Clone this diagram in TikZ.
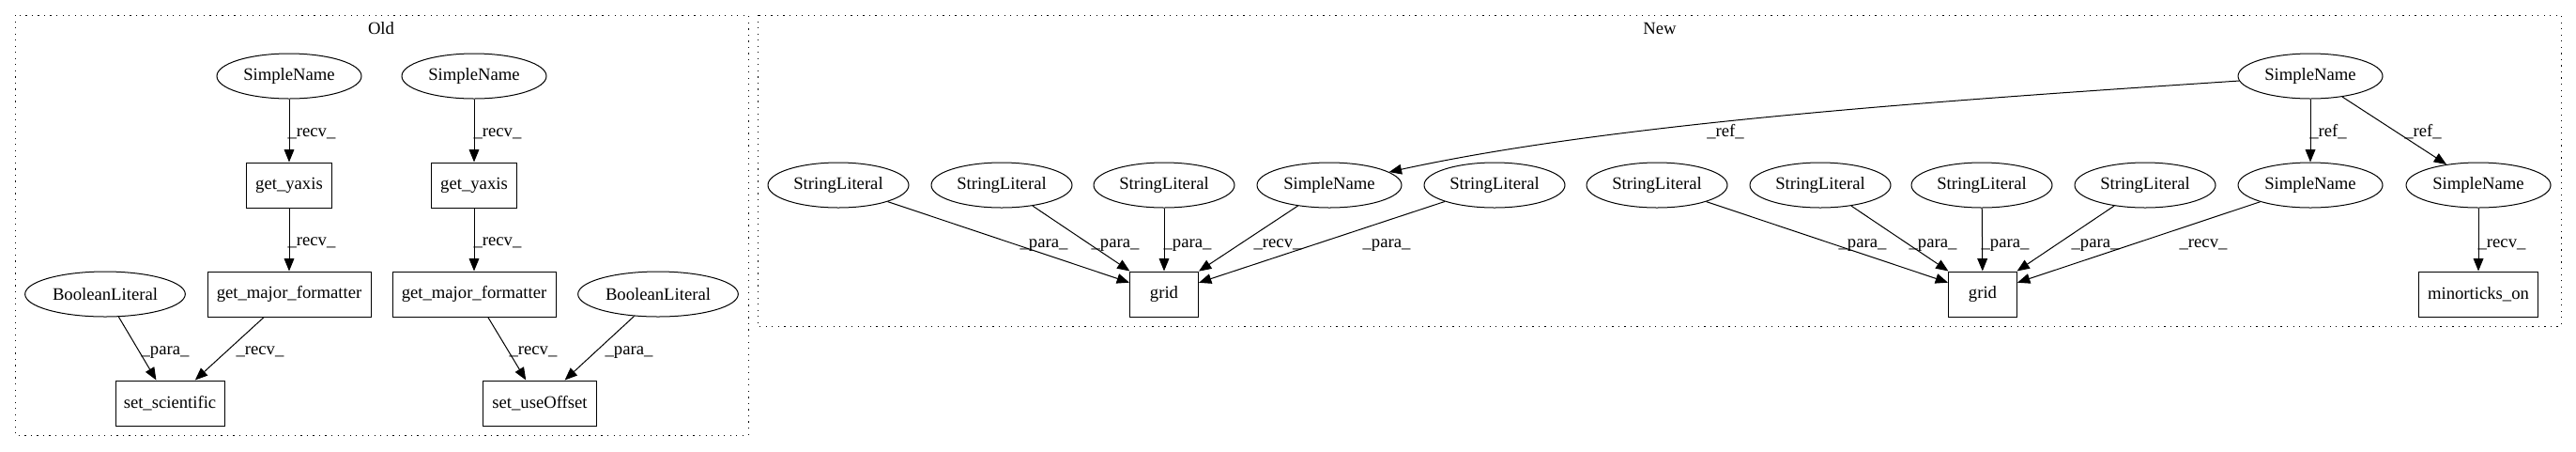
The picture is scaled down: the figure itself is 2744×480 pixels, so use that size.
\documentclass[tikz,border=0pt]{standalone}
\usepackage{fontspec}
\setmainfont{Liberation Serif}
\usetikzlibrary{shapes.geometric, arrows.meta}

\begin{document}
\begin{tikzpicture}[x=0.75pt, y=-0.75pt,
    font=\fontsize{14}{17}\selectfont,
    lit/.style={ellipse, draw, line width=0.75pt, inner sep=0pt, minimum height=36pt},
    call/.style={rectangle, draw, line width=0.75pt, inner sep=0pt, minimum height=36pt},
    link/.style={draw, line width=0.75pt, -{Triangle[length=10pt, width=8pt]}},
    lbl/.style={anchor=base, inner sep=0pt},
    cluster/.style={draw, line width=0.75pt, dash pattern=on 0.9pt off 4pt}
    ]
    \useasboundingbox (0,0) rectangle (2744,480);

    % Old
    \draw [cluster] (16,16) rectangle (797,463);
    \node [lbl] (oldname) at (406,36) {Old};

    \node [lit, minimum width=115.5pt] (sn1) at (308,81) {SimpleName};
    \node [call, minimum width=68pt] (gy1) at (308,197) {get\_yaxis};
    \node [call, minimum width=130.5pt] (gmf1) at (308,313) {get\_major\_formatter};
    \node [lit, minimum width=128pt] (bl1) at (112,313) {BooleanLiteral};
    \node [call, minimum width=87pt] (ss) at (181,429) {set\_scientific};

    \node [lit, minimum width=115.5pt] (sn2) at (505,81) {SimpleName};
    \node [call, minimum width=68pt] (gy2) at (505,197) {get\_yaxis};
    \node [call, minimum width=130.5pt] (gmf2) at (505,313) {get\_major\_formatter};
    \node [lit, minimum width=128pt] (bl2) at (701,313) {BooleanLiteral};
    \node [call, minimum width=91pt] (suo) at (575,429) {set\_useOffset};

    \draw [link] (sn1) -- (gy1) node [lbl] at (332,145) {\_recv\_};
    \draw [link] (gy1) -- (gmf1) node [lbl] at (332,261) {\_recv\_};
    \draw [link] (bl1) -- (ss) node [lbl] at (176,377) {\_para\_};
    \draw [link] (gmf1) -- (ss) node [lbl] at (277,377) {\_recv\_};
    \draw [link] (sn2) -- (gy2) node [lbl] at (530,145) {\_recv\_};
    \draw [link] (gy2) -- (gmf2) node [lbl] at (530,261) {\_recv\_};
    \draw [link] (gmf2) -- (suo) node [lbl] at (568,377) {\_recv\_};
    \draw [link] (bl2) -- (suo) node [lbl] at (670,377) {\_para\_};

    % New
    \draw [cluster] (807,16) rectangle (2728,347);
    \node [lbl] (newname) at (1768,36) {New};

    \node [lit, minimum width=115.5pt] (sntop) at (2461,81) {SimpleName};
    \node [lit, minimum width=112.5pt] (sl1) at (893,197) {StringLiteral};
    \node [lit, minimum width=112.5pt] (sl2) at (1067,197) {StringLiteral};
    \node [lit, minimum width=112.5pt] (sl3) at (1240,197) {StringLiteral};
    \node [lit, minimum width=115.5pt] (sn3) at (1416,197) {SimpleName};
    \node [lit, minimum width=112.5pt] (sl4) at (1592,197) {StringLiteral};
    \node [lit, minimum width=112.5pt] (sl5) at (1765,197) {StringLiteral};
    \node [lit, minimum width=112.5pt] (sl6) at (1939,197) {StringLiteral};
    \node [lit, minimum width=112.5pt] (sl7) at (2111,197) {StringLiteral};
    \node [lit, minimum width=112.5pt] (sl8) at (2285,197) {StringLiteral};
    \node [lit, minimum width=115.5pt] (sn4) at (2461,197) {SimpleName};
    \node [lit, minimum width=115.5pt] (sn5) at (2640,197) {SimpleName};
    \node [call, minimum width=54.75pt] (grid1) at (1240,313) {grid};
    \node [call, minimum width=54.75pt] (grid2) at (2112,313) {grid};
    \node [call, minimum width=95pt] (mto) at (2640,313) {minorticks\_on};

    \draw [link] (sntop) .. controls (2084,106) and (1722,130) .. (sn3) node [lbl] at (1838,145) {\_ref\_};
    \draw [link] (sntop) -- (sn4) node [lbl] at (2480,145) {\_ref\_};
    \draw [link] (sntop) -- (sn5) node [lbl] at (2581,145) {\_ref\_};

    \draw [link] (sl1) -- (grid1) node [lbl] at (1112,263) {\_para\_};
    \draw [link] (sl2) -- (grid1) node [lbl] at (1188,263) {\_para\_};
    \draw [link] (sl3) -- (grid1) node [lbl] at (1265,263) {\_para\_};
    \draw [link] (sn3) -- (grid1) node [lbl] at (1361,263) {\_recv\_};
    \draw [link] (sl4) -- (grid1) node [lbl] at (1477,263) {\_para\_};

    \draw [link] (sl5) -- (grid2) node [lbl] at (1984,263) {\_para\_};
    \draw [link] (sl6) -- (grid2) node [lbl] at (2059,263) {\_para\_};
    \draw [link] (sl7) -- (grid2) node [lbl] at (2136,263) {\_para\_};
    \draw [link] (sl8) -- (grid2) node [lbl] at (2232,263) {\_para\_};
    \draw [link] (sn4) -- (grid2) node [lbl] at (2347,263) {\_recv\_};

    \draw [link] (sn5) -- (mto) node [lbl] at (2665,263) {\_recv\_};
\end{tikzpicture}
\end{document}
